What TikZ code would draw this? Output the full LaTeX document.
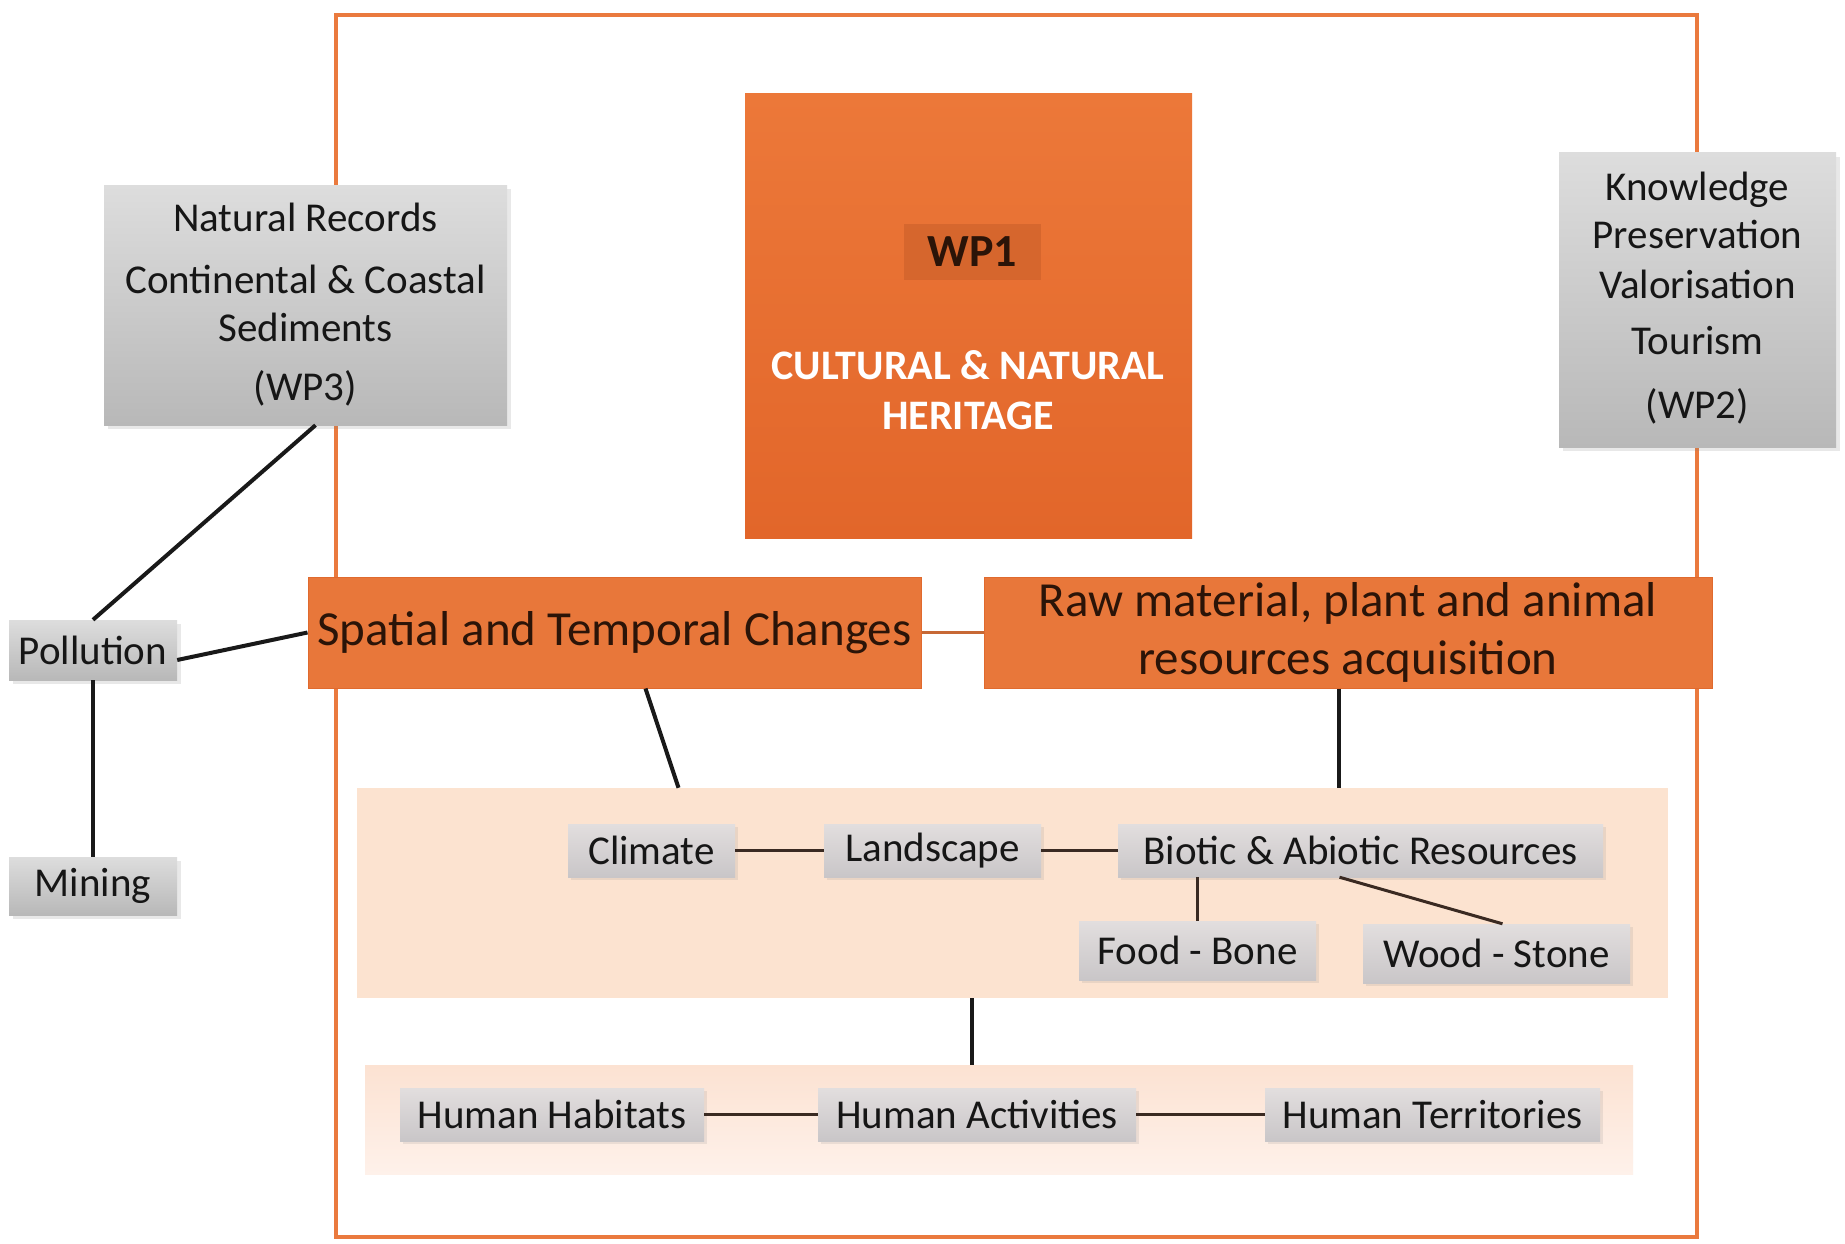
\documentclass[tikz,border=0pt]{standalone}
\usepackage{fontspec}
\setmainfont{Carlito}
\usetikzlibrary{shadows}

\definecolor{frameorange}{HTML}{EA7A3E}
\definecolor{heritagetop}{HTML}{EC7839}
\definecolor{heritagebot}{HTML}{E2662A}
\definecolor{bandorange}{HTML}{E8773A}
\definecolor{bandedge}{HTML}{E06A2E}
\definecolor{peach}{HTML}{FCE3D0}
\definecolor{peachtop}{HTML}{FCE2D2}
\definecolor{peachbot}{HTML}{FEF1EA}
\definecolor{greytop}{HTML}{DDDDDD}
\definecolor{greybot}{HTML}{B8B8B8}
\definecolor{tagtop}{HTML}{E2DEDE}
\definecolor{tagbot}{HTML}{C9C6C8}
\definecolor{ink}{HTML}{161616}
\definecolor{bandink}{HTML}{2B1408}
\definecolor{linkbrown}{HTML}{3A2A22}

\tikzset{
  small font/.style={font=\fontsize{41}{48}\selectfont},
  band font/.style={font=\fontsize{49}{58}\selectfont},
  greybox/.style={draw=none, top color=greytop, bottom color=greybot,
    text=ink, align=center, inner sep=0pt, small font,
    drop shadow={shadow xshift=4pt, shadow yshift=-4pt, opacity=0.18}},
  tagbox/.style={draw=none, top color=tagtop, bottom color=tagbot,
    text=ink, align=center, inner sep=0pt, small font, minimum height=53pt,
    drop shadow={shadow xshift=3pt, shadow yshift=-3pt, opacity=0.15}},
  bandbox/.style={draw=bandedge, line width=1pt, fill=bandorange, text=bandink,
    align=center, inner sep=0pt, band font},
  panel/.style={draw=none, inner sep=0pt},
  mainlink/.style={draw=black!90, line width=4pt},
  sublink/.style={draw=linkbrown, line width=3pt},
}

\begin{document}
\begin{tikzpicture}[x=1pt, y=-1pt]
  \useasboundingbox (0,0) rectangle (1845,1244);
  \fill[white] (0,0) rectangle (1845,1244);

  % outer project frame
  \draw[frameorange, line width=4pt] (336,15) rectangle (1697,1237);

  % background panels
  \node[panel, fill=peach, minimum width=1311pt, minimum height=210pt]
    (p1) at (1012.5,893) {};
  \node[panel, top color=peachtop, bottom color=peachbot,
    minimum width=1268pt, minimum height=109pt] (p2) at (999,1119.5) {};

  % central heritage block
  \node[draw=none, top color=heritagetop, bottom color=heritagebot,
    minimum width=447pt, minimum height=444pt, inner sep=0pt]
    (wp1) at (968.5,316) {};
  \node[fill=heritagebot!80!black, fill opacity=0.35, text opacity=1,
    text=bandink, font=\fontsize{46}{50}\selectfont\bfseries,
    minimum width=137pt, minimum height=56pt, inner sep=0pt]
    (wp1tag) at (972.5,252) {WP1};
  \node[text=white, align=center, inner sep=0pt,
    font=\fontsize{42}{50}\selectfont\bfseries]
    (wp1title) at (968,390) {CULTURAL \& NATURAL\\HERITAGE};

  % side work packages
  \node[greybox, minimum width=403pt, minimum height=240pt] (wp3) at (305.5,305)
    {Natural Records\\[14pt] Continental \& Coastal\\ Sediments\\[11pt] (WP3)};
  \node[greybox, minimum width=277pt, minimum height=294pt] (wp2) at (1697.5,300)
    {\raisebox{6pt}{\begin{tabular}{@{}c@{}}Knowledge\\ Preservation\\[2pt]
      Valorisation\\[8pt] Tourism\\[16pt] (WP2)\end{tabular}}};

  % orange bands
  \node[bandbox, minimum width=613pt, minimum height=111pt] (spat) at (614.5,632.5)
    {Spatial and Temporal Changes};
  \node[bandbox, minimum width=728pt, minimum height=111pt] (raw) at (1348,632.5)
    {Raw material, plant and animal\\ resources acquisition};

  % left column
  \node[greybox, minimum width=168pt, minimum height=60pt] (pol) at (93,650) {Pollution};
  \node[greybox, minimum width=168pt, minimum height=58pt] (min) at (93,886) {Mining};

  % environment panel
  \node[tagbox, minimum width=167pt] (clim) at (651.5,850.5) {Climate};
  \node[tagbox, minimum width=217pt] (land) at (932.5,850.5) {Landscape};
  \node[tagbox, minimum width=485pt] (bio) at (1360.5,850.5) {Biotic \& Abiotic Resources};
  \node[tagbox, minimum width=237pt, minimum height=59pt] (food) at (1197.5,950.5) {Food - Bone};
  \node[tagbox, minimum width=267pt, minimum height=59pt] (wood) at (1496.5,953.5) {Wood - Stone};

  % human panel
  \node[tagbox, minimum width=304pt] (hab) at (552,1114.5) {Human Habitats};
  \node[tagbox, minimum width=318pt] (act) at (977,1114.5) {Human Activities};
  \node[tagbox, minimum width=335pt] (terr) at (1432.5,1114.5) {Human Territories};

  % connectors
  \draw[mainlink] ([xshift=10pt]wp3.south) -- (pol.north);
  \draw[mainlink] ([yshift=-10pt]pol.east) -- (spat.west);
  \draw[mainlink] (pol.south) -- (min.north);
  \draw[frameorange!85!black, line width=3pt] (spat.east) -- (raw.west);
  \draw[mainlink] ([xshift=31pt]spat.south) -- ([xshift=27pt]clim.north |- p1.north);
  \draw[mainlink] ([xshift=-9pt]raw.south) -- ([xshift=-9pt]raw.south |- p1.north);
  \draw[mainlink] ([xshift=-5pt]act.north |- p1.south) -- ([xshift=-5pt]act.north |- p2.north);

  \draw[sublink] (clim.east) -- (land.west);
  \draw[sublink] (land.east) -- (bio.west);
  \draw[sublink] (food.north |- bio.south) -- (food.north);
  \draw[sublink] ([xshift=-21pt]bio.south) -- ([xshift=6pt]wood.north);
  \draw[sublink] (hab.east) -- (act.west);
  \draw[sublink] (act.east) -- (terr.west);
\end{tikzpicture}
\end{document}
